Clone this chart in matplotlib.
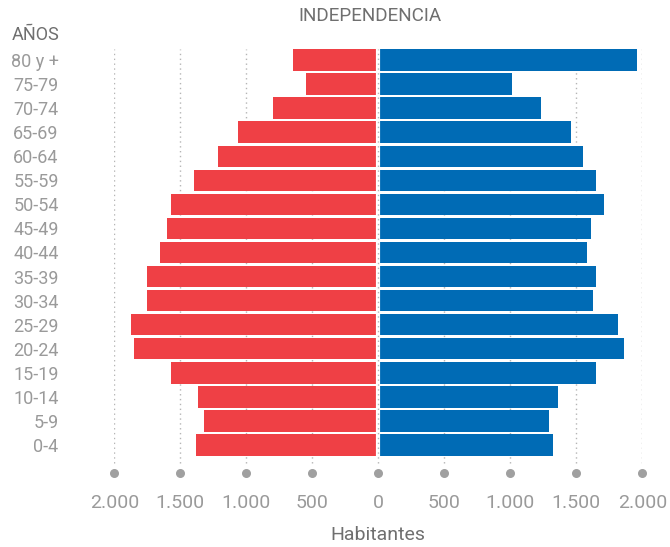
import matplotlib
matplotlib.use("Agg")
import matplotlib.pyplot as plt

plt.rcParams['font.family'] = ['Roboto', 'DejaVu Sans']

title = "INDEPENDENCIA"
grupos = ["80 y +", "75-79", "70-74", "65-69", "60-64", "55-59", "50-54", "45-49",
          "40-44", "35-39", "30-34", "25-29", "20-24", "15-19", "10-14", "5-9", "0-4"]
izquierda = [643, 544, 795, 1063, 1215, 1400, 1569, 1602,
             1653, 1752, 1752, 1871, 1853, 1569, 1367, 1317, 1382]
derecha = [1962, 1010, 1229, 1463, 1547, 1648, 1713, 1612,
           1580, 1648, 1630, 1814, 1864, 1648, 1360, 1295, 1327]
ticks = [-2000, -1500, -1000, -500, 0, 500, 1000, 1500, 2000]
tick_labels = ["2.000", "1.500", "1.000", "500", "0", "500", "1.000", "1.500", "2.000"]

RED = "#EF4045"
BLUE = "#006BB5"
GRID = "#b5b5b5"
LABEL = "#9a9a9a"
DARK = "#6f6f6f"

W, H = 670, 547
fig = plt.figure(figsize=(W / 100, H / 100), dpi=100)
ax = fig.add_axes([114.3 / W, (H - 473) / H, (642.3 - 114.3) / W, (473 - 49) / H])

y = list(range(len(grupos)))
ax.set_xlim(-2000, 2000)
ax.set_ylim(16 + 28 / 24.06, -11 / 24.06)

# dotted grid behind the bars
grid_bottom = (473 - 463) / 424
for t in ticks:
    ax.axvline(t, ymin=grid_bottom, ymax=1, color=GRID, lw=1, ls=(0, (1, 2.5)), zorder=0)

ax.barh(y, [-v for v in izquierda], height=0.89, color=RED, zorder=2)
ax.barh(y, derecha, height=0.89, color=BLUE, zorder=2)

# white gap along the zero line, with the dotted rule showing through
ax.axvline(0, color="white", lw=3, zorder=3)
ax.axvline(0, ymin=grid_bottom, ymax=1, color=GRID, lw=1, ls=(0, (1, 2.5)), zorder=4)

# dot markers in place of tick marks
ax.scatter(ticks, [0] * len(ticks), s=30, color="#a0a0a0", zorder=5,
           transform=ax.get_xaxis_transform(), clip_on=False)

for s in ax.spines.values():
    s.set_visible(False)

ax.set_xticks(ticks)
ax.set_xticklabels(tick_labels, fontsize=14, color=LABEL)
ax.tick_params(axis="x", length=0, pad=15)

ax.set_yticks(y)
ax.set_yticklabels(grupos, fontsize=13, color=LABEL)
ax.tick_params(axis="y", length=0, pad=40)

fig.text(370 / W, 1 - 16 / H, title, ha="center", va="center", fontsize=13.6, color=DARK)
fig.text(12 / W, 1 - 35 / H, "AÑOS", ha="left", va="center", fontsize=13, color=DARK)
fig.text(378 / W, 1 - 535 / H, "Habitantes", ha="center", va="center", fontsize=14, color=DARK)

fig.savefig("out.png", dpi=100)
